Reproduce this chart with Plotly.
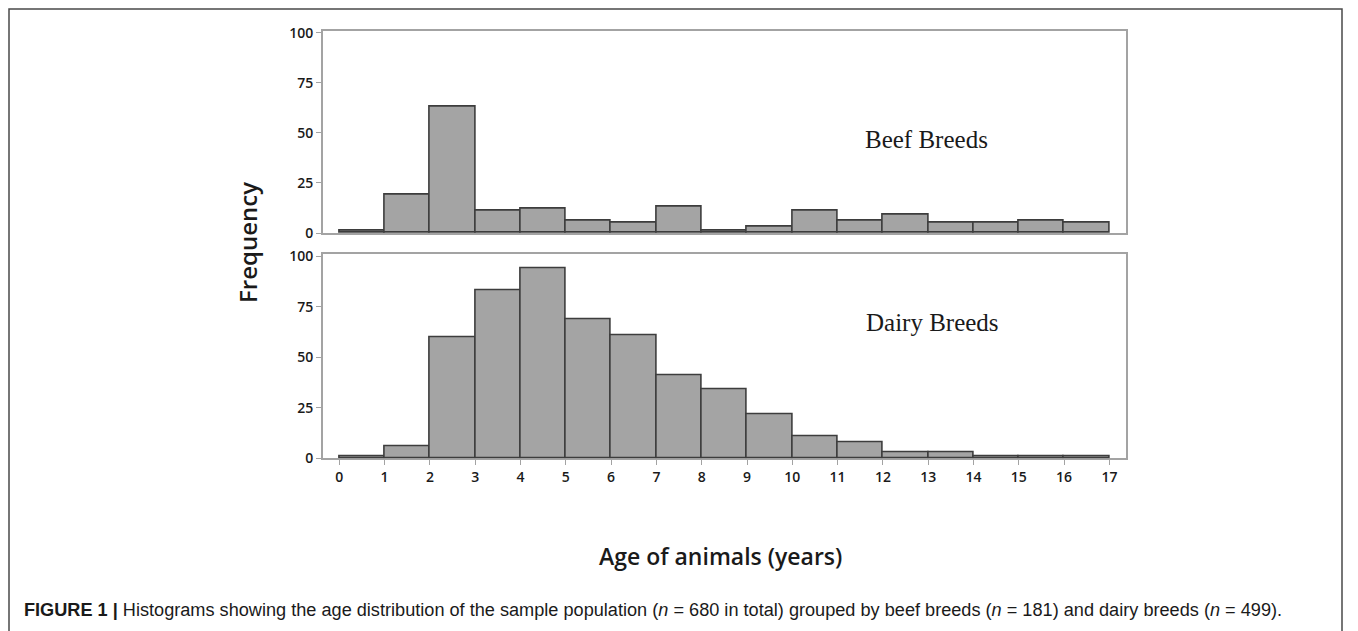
import plotly.graph_objects as go

W, H = 1358, 631
OFF = 8  # page body margin compensation

bin_left = list(range(0, 17))
bin_centers = [b + 0.5 for b in bin_left]
x_ticks = list(range(0, 18))
y_ticks = [0, 25, 50, 75, 100]

beef_counts = [1, 19, 63, 11, 12, 6, 5, 13, 1, 3, 11, 6, 9, 5, 5, 6, 5]
dairy_counts = [1, 6, 60, 83, 94, 69, 61, 41, 34, 22, 11, 8, 3, 3, 1, 1, 1]

panel_labels = ["Beef Breeds", "Dairy Breeds"]
y_title = "Frequency"
x_title = "Age of animals (years)"
caption = ("<b>FIGURE 1 |</b> Histograms showing the age distribution of the sample population "
           "(<i>n</i> = 680 in total) grouped by beef breeds (<i>n</i> = 181) and dairy breeds (<i>n</i> = 499).")

def px_x(p):
    return (p - OFF) / W

def px_y(p):
    return 1 - (p - OFF) / H

BAR_FILL = "#a4a4a4"
BAR_LINE = "#3d3d3d"
BOX = "#a3a3a3"
TXT = "#1a1a1a"
tick_font = dict(family="Open Sans", size=14, color=TXT, weight=600)

fig = go.Figure()
fig.add_trace(go.Bar(x=bin_centers, y=beef_counts, width=1, xaxis="x", yaxis="y",
                     marker=dict(color=BAR_FILL, line=dict(color=BAR_LINE, width=1.6)),
                     showlegend=False, hoverinfo="x+y"))
fig.add_trace(go.Bar(x=bin_centers, y=dairy_counts, width=1, xaxis="x2", yaxis="y2",
                     marker=dict(color=BAR_FILL, line=dict(color=BAR_LINE, width=1.6)),
                     showlegend=False, hoverinfo="x+y"))

xdom = [px_x(322.7), px_x(1125.7)]
xr = [-0.367, 17.36]

common_y = dict(showline=True, mirror=True, linecolor=BOX, linewidth=1.5,
                ticks="outside", ticklen=5, tickcolor=BOX, tickwidth=1,
                tickvals=y_ticks, showgrid=False, zeroline=False, automargin=False,
                tickfont=tick_font, layer="below traces")

fig.update_layout(
    template="none",
    width=W, height=H,
    margin=dict(l=0, r=0, t=0, b=0, pad=0),
    paper_bgcolor="white", plot_bgcolor="white",
    bargap=0, showlegend=False,
    xaxis=dict(domain=xdom, range=xr, anchor="y", showline=True, mirror=True,
               linecolor=BOX, linewidth=1.5, showticklabels=False, ticks="",
               showgrid=False, zeroline=False, automargin=False, layer="below traces"),
    yaxis=dict(domain=[px_y(233), px_y(30.7)], range=[0, 101.0], anchor="x", **common_y),
    xaxis2=dict(domain=xdom, range=xr, anchor="y2", showline=True, mirror=True,
                linecolor=BOX, linewidth=1.5, ticks="outside", ticklen=5,
                tickcolor=BOX, tickvals=x_ticks, showgrid=False, zeroline=False,
                automargin=False, tickfont=tick_font, layer="below traces"),
    yaxis2=dict(domain=[px_y(458.3), px_y(254.3)], range=[0, 100.9], anchor="x2", **common_y),
)

# outer figure frame (kept inside the visible page area)
fig.add_shape(type="rect", xref="paper", yref="paper",
              x0=px_x(9), x1=px_x(1342), y0=px_y(660), y1=px_y(9),
              line=dict(color="#4a4a4a", width=1.5), fillcolor="rgba(0,0,0,0)")

fig.add_annotation(text=panel_labels[0], xref="paper", yref="paper",
                   x=px_x(926), y=px_y(139), xanchor="center", yanchor="middle",
                   showarrow=False, font=dict(family="Liberation Serif", size=25, color=TXT))
fig.add_annotation(text=panel_labels[1], xref="paper", yref="paper",
                   x=px_x(932), y=px_y(322), xanchor="center", yanchor="middle",
                   showarrow=False, font=dict(family="Liberation Serif", size=25, color=TXT))

fig.add_annotation(text=y_title, xref="paper", yref="paper",
                   x=px_x(247), y=px_y(243), xanchor="center", yanchor="middle",
                   textangle=-90, showarrow=False,
                   font=dict(family="Open Sans", size=24, color=TXT, weight=600))
fig.add_annotation(text=x_title, xref="paper", yref="paper",
                   x=px_x(720), y=px_y(556), xanchor="center", yanchor="middle",
                   showarrow=False,
                   font=dict(family="Open Sans", size=23, color=TXT, weight=600))
fig.add_annotation(text=caption, xref="paper", yref="paper",
                   x=px_x(22), y=px_y(610), xanchor="left", yanchor="middle",
                   showarrow=False, align="left",
                   font=dict(family="Liberation Sans", size=18.15, color=TXT))

fig.write_html("out.html")
